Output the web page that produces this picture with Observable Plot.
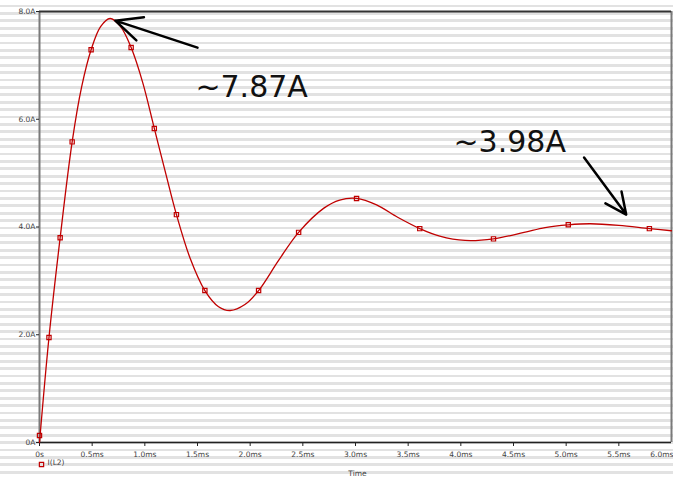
<!DOCTYPE html>
<html>
<head>
<meta charset="utf-8">
<script src="https://cdn.jsdelivr.net/npm/d3@7"></script>
<script src="https://cdn.jsdelivr.net/npm/@observablehq/plot@0.6"></script>
<style>
  html, body { margin: 0; padding: 0; }
  body {
    width: 673px; height: 478px; overflow: hidden;
    background: repeating-linear-gradient(to bottom, #ffffff 0px, #ffffff 4.6px, #e2e2e2 4.6px, #e2e2e2 7.4px);
  }
  #chart svg { display: block; }
</style>
</head>
<body>
<div id="chart"></div>
<script>
// Curve samples of I(L2) (time in ms, current in A)
const curveTime = [0, 0.09, 0.196, 0.31, 0.40, 0.49, 0.58, 0.67, 0.77, 0.87, 0.98, 1.09, 1.20, 1.30, 1.43, 1.57, 1.70, 1.81, 1.95, 2.08, 2.27, 2.46, 2.70, 2.85, 3.01, 3.20, 3.40, 3.61, 3.80, 4.04, 4.31, 4.60, 4.80, 5.02, 5.23, 5.50, 5.79, 6.0];
const curveAmps = [0, 1.95, 3.80, 5.58, 6.60, 7.29, 7.72, 7.87, 7.72, 7.33, 6.68, 5.83, 4.98, 4.23, 3.42, 2.82, 2.52, 2.45, 2.56, 2.82, 3.38, 3.90, 4.35, 4.50, 4.53, 4.41, 4.18, 3.97, 3.83, 3.75, 3.78, 3.90, 3.99, 4.04, 4.06, 4.03, 3.97, 3.93];

// Marker (simulation point) positions
const markerTime = [0.0, 0.09, 0.196, 0.31, 0.49, 0.87, 1.09, 1.30, 1.57, 2.08, 2.46, 3.01, 3.61, 4.31, 5.02, 5.79];
const markerAmps = [0.13, 1.95, 3.80, 5.58, 7.29, 7.33, 5.83, 4.23, 2.82, 2.82, 3.90, 4.53, 3.97, 3.78, 4.04, 3.97];

// Axis ticks
const xTicks = [0, 0.5, 1.0, 1.5, 2.0, 2.5, 3.0, 3.5, 4.0, 4.5, 5.0, 5.5, 6.0];
const xTickLabels = ["0s", "0.5ms", "1.0ms", "1.5ms", "2.0ms", "2.5ms", "3.0ms", "3.5ms", "4.0ms", "4.5ms", "5.0ms", "5.5ms", "6.0ms"];
const yTicks = [0, 2, 4, 6, 8];
const yTickLabels = ["0A", "2.0A", "4.0A", "6.0A", "8.0A"];

// Annotations
const noteLabels = ["~7.87A", "~3.98A"];
const noteTime = [1.48, 3.93];
const noteAmps = [6.47, 5.45];
const arrowFromTime = [1.50, 5.17];
const arrowFromAmps = [7.33, 5.29];
const arrowToTime = [0.72, 5.57];
const arrowToAmps = [7.83, 4.23];

const seriesName = "I(L2)";
const axisTitle = "Time";

const curve = curveTime.map((t, i) => ({t, a: curveAmps[i]}));
const markers = markerTime.map((t, i) => ({t, a: markerAmps[i]}));
const notes = noteLabels.map((label, i) => ({label, t: noteTime[i], a: noteAmps[i]}));
const arrows = arrowFromTime.map((t, i) => ({x1: t, y1: arrowFromAmps[i], x2: arrowToTime[i], y2: arrowToAmps[i]}));

const red = "#c00000";
const tickFont = "DejaVu Sans";
const lastTick = xTicks[xTicks.length - 1];
const fmtX = d => xTickLabels[xTicks.indexOf(d)];

const chart = Plot.plot({
  width: 673,
  height: 478,
  marginLeft: 39,
  marginRight: 2,
  marginTop: 11,
  marginBottom: 36,
  style: {background: "transparent", fontFamily: tickFont, fontSize: "7.5px", color: "#444"},
  x: {domain: [0, 6]},
  y: {domain: [0, 8]},
  marks: [
    Plot.ruleX([0], {stroke: "#7a7a7a", strokeWidth: 2}),
    Plot.ruleX([6], {stroke: "#7a7a7a", strokeWidth: 2}),
    Plot.ruleY([8], {stroke: "#333", strokeWidth: 2}),
    Plot.ruleY([0], {stroke: "#222", strokeWidth: 1.5}),
    Plot.axisX({ticks: xTicks.slice(0, -1), tickFormat: fmtX, tickSize: 4, tickPadding: 5, stroke: "#222", fill: "#444", label: null}),
    Plot.axisX({ticks: [lastTick], tickFormat: fmtX, tickSize: 4, tickPadding: 5, stroke: "#222", fill: "#444", label: null, textAnchor: "end", dx: 2}),
    Plot.axisY({ticks: yTicks, tickFormat: d => yTickLabels[yTicks.indexOf(d)], tickSize: 3, tickPadding: 1, stroke: "#222", fill: "#444", label: null}),
    Plot.line(curve, {x: "t", y: "a", stroke: red, strokeWidth: 1.3, curve: "catmull-rom"}),
    Plot.dot(markers, {x: "t", y: "a", symbol: "square", r: 2.4, stroke: red, strokeWidth: 1.2, fill: "none"}),
    Plot.arrow(arrows, {x1: "x1", y1: "y1", x2: "x2", y2: "y2", stroke: "#000", strokeWidth: 2.5, headLength: 22, headAngle: 50}),
    Plot.text(notes, {x: "t", y: "a", text: "label", textAnchor: "start", lineAnchor: "bottom", fontSize: 30, fontFamily: "DejaVu Sans", fill: "#111", dy: 3}),
    Plot.dot([seriesName], {frameAnchor: "bottom-left", dx: 2, dy: 22, symbol: "square", r: 2.4, stroke: red, strokeWidth: 1.2, fill: "none"}),
    Plot.text([seriesName], {frameAnchor: "bottom-left", dx: 8, dy: 22, text: d => d, textAnchor: "start", fill: "#444", fontSize: 7.5}),
    Plot.text([axisTitle], {frameAnchor: "bottom", dx: 2, dy: 33, text: d => d, fill: "#444", fontSize: 7.5})
  ]
});
document.getElementById("chart").append(chart);
</script>
</body>
</html>
